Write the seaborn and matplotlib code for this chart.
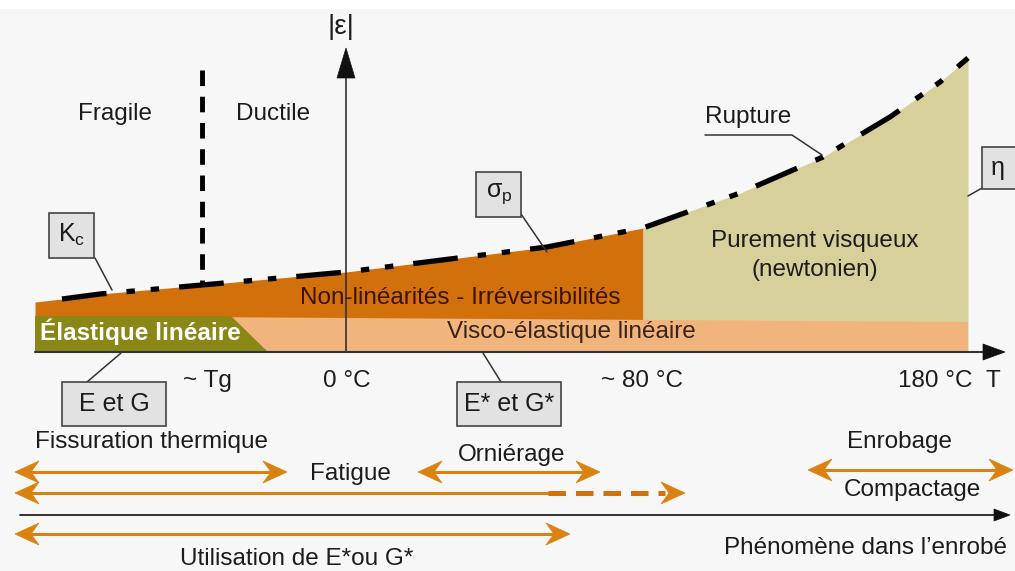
import matplotlib
matplotlib.use('Agg')
import matplotlib.pyplot as plt
from matplotlib.patches import Polygon, Rectangle
import seaborn as sns

sns.set_theme(style='white')
plt.rcParams['font.family'] = ['Liberation Sans', 'DejaVu Sans']

# Rupture / sigma_p limit curve (picture units)
curve_x = [35, 62, 100, 202, 346, 450, 547, 643, 740, 823, 890, 940, 968]
curve_y = [302, 299, 294, 285, 272, 259, 247, 228, 193, 157, 117, 82, 58]
split_x = 643   # end of the non-linear domain (~80 °C)

# temperature axis labels
temp_labels = ['~ Tg', '0 °C', '~ 80 °C', '180 °C']
temp_pos = [207, 347, 642, 935]

# phenomena ranges along the temperature axis
phen_names = ['Fissuration thermique', 'Orniérage', 'Enrobage', 'Utilisation de E*ou G*']
phen_start = [15, 418, 808, 15]
phen_end = [287, 600, 1013, 570]
phen_level = [472, 472, 470, 534]
fatigue_range = [15, 548, 685]   # start, end of solid part, tip of dashed part

ORANGE = '#d9820f'
DARK_OR = '#d2700c'
SALMON = '#f1b47c'
OLIVE = '#8a8716'
KHAKI = '#d8d09b'
INK = '#1c1c1c'

fig = plt.figure(figsize=(10.15, 5.71), dpi=100, facecolor='#f7f7f7')
ax = fig.add_axes([0, 0, 1, 1])
ax.set_facecolor('#f7f7f7')
ax.set_xlim(0, 1015)
ax.set_ylim(571, 0)
ax.axis('off')
ax.axhspan(0, 9, color='white', lw=0)

# domains
i = curve_x.index(split_x)
ax.fill_between(curve_x[:i + 1], curve_y[:i + 1], 352, color=DARK_OR, lw=0)
ax.fill_between(curve_x[i:], curve_y[i:], 352, color=KHAKI, lw=0)
ax.add_patch(Polygon([(35, 316), (968, 322), (968, 352), (35, 352)], fc=SALMON, lw=0))
ax.add_patch(Polygon([(35, 316), (231, 316), (268, 352), (35, 352)], fc=OLIVE, lw=0))

# limit curve (dash-dot-dot)
sns.lineplot(x=curve_x[1:], y=curve_y[1:], ax=ax, color='black', lw=3.8, sort=False,
             linestyle=(0, (8.5, 3.8, 1.6, 3.0, 1.6, 3.8)), estimator=None,
             dash_capstyle='butt')

# fragile / ductile boundary
ax.plot([202, 202], [70, 285], color='black', lw=3.5, linestyle=(0, (3.2, 2.2)))


def head(x, y, d, color, L=24, W=11, notch=8, vertical=False):
    if vertical:
        pts = [(x, y), (x - W, y - d * L), (x, y - d * (L - notch)), (x + W, y - d * L)]
    else:
        pts = [(x, y), (x - d * L, y - W), (x - d * (L - notch), y), (x - d * L, y + W)]
    ax.add_patch(Polygon(pts, closed=True, fc=color, ec=color, lw=0.5, zorder=5))


# axes
ax.plot([35, 990], [352, 352], color='#333333', lw=1.5)
head(1005, 352, 1, '#111111', L=22, W=8, notch=0)
ax.plot([346, 346], [352, 75], color='#333333', lw=1.2)
head(346, 48, -1, '#111111', L=30, W=9, notch=0, vertical=True)
ax.plot([20, 998], [515, 515], color='#222222', lw=1.3)
head(1010, 515, 1, '#111111', L=16, W=6, notch=0)

# phenomena arrows
for x0, x1, y in zip(phen_start, phen_end, phen_level):
    ax.plot([x0 + 10, x1 - 10], [y, y], color=ORANGE, lw=2.2)
    head(x0, y, -1, ORANGE)
    head(x1, y, 1, ORANGE)
f0, f1, f2 = fatigue_range
ax.plot([f0 + 10, f1], [493, 493], color=ORANGE, lw=2.2)
ax.plot([f1, f2 - 20], [493, 493], color=DARK_OR, lw=3.6, linestyle=(0, (3.5, 2)))
head(f0, 493, -1, ORANGE)
head(f2, 493, 1, ORANGE)

# labelled boxes with leader lines
boxes = [('$\\mathregular{K_c}$', 72, 235, 45, 45),
         ('$\\mathregular{σ_p}$', 499, 194, 45, 45),
         ('E et G', 114, 404, 104, 44),
         ('E* et G*', 509, 404, 104, 44),
         ('η', 1005, 168, 46, 42)]
for txt, cx, cy, w, h in boxes:
    ax.add_patch(Rectangle((cx - w / 2, cy - h / 2), w, h, fc='#e2e2e2', ec='#444444', lw=1.2, zorder=4))
    ax.text(cx if txt != 'η' else 998, cy, txt, ha='center', va='center', fontsize=18, color=INK, zorder=6)

leaders = [([95, 112], [258, 290]), ([521, 547], [214, 252]), ([705, 792, 822], [135, 135, 155]),
           ([982, 968], [188, 196]), ([121, 87], [353, 382]), ([483, 501], [353, 382])]
for lx, ly in leaders:
    ax.plot(lx, ly, color='#333333', lw=1.1, zorder=3)

fs = 17.5
ax.text(115, 114, 'Fragile', ha='center', va='center', fontsize=fs, color=INK)
ax.text(273, 114, 'Ductile', ha='center', va='center', fontsize=fs, color=INK)
ax.text(341, 27, '|ε|', ha='center', va='center', fontsize=20, color=INK)
ax.text(748, 117, 'Rupture', ha='center', va='center', fontsize=fs, color=INK)
ax.text(815, 241, 'Purement visqueux', ha='center', va='center', fontsize=fs, color=INK)
ax.text(815, 270, '(newtonien)', ha='center', va='center', fontsize=fs, color=INK)
ax.text(460, 298, 'Non-linéarités - Irréversibilités', ha='center', va='center', fontsize=fs, color='#3b1300')
ax.text(40, 332, 'Élastique linéaire', ha='left', va='center', fontsize=fs, color='white', fontweight='bold')
ax.text(571, 332, 'Visco-élastique linéaire', ha='center', va='center', fontsize=fs, color='#3a2418')
for lab, xp in zip(temp_labels, temp_pos):
    ax.text(xp, 381, lab, ha='center', va='center', fontsize=fs, color=INK)
ax.text(993, 381, 'T', ha='center', va='center', fontsize=fs, color=INK)

name_pos = [(152, 442), (512, 455), (900, 442), (297, 559)]
for name, (tx, ty) in zip(phen_names, name_pos):
    ax.text(tx, ty, name, ha='center', va='center', fontsize=fs, color=INK)
ax.text(350, 474, 'Fatigue', ha='center', va='center', fontsize=fs, color=INK)
ax.text(912, 490, 'Compactage', ha='center', va='center', fontsize=fs, color=INK)
ax.text(866, 548, 'Phénomène dans l’enrobé', ha='center', va='center', fontsize=fs, color=INK)

fig.savefig('out.png', dpi=100, facecolor=fig.get_facecolor())
